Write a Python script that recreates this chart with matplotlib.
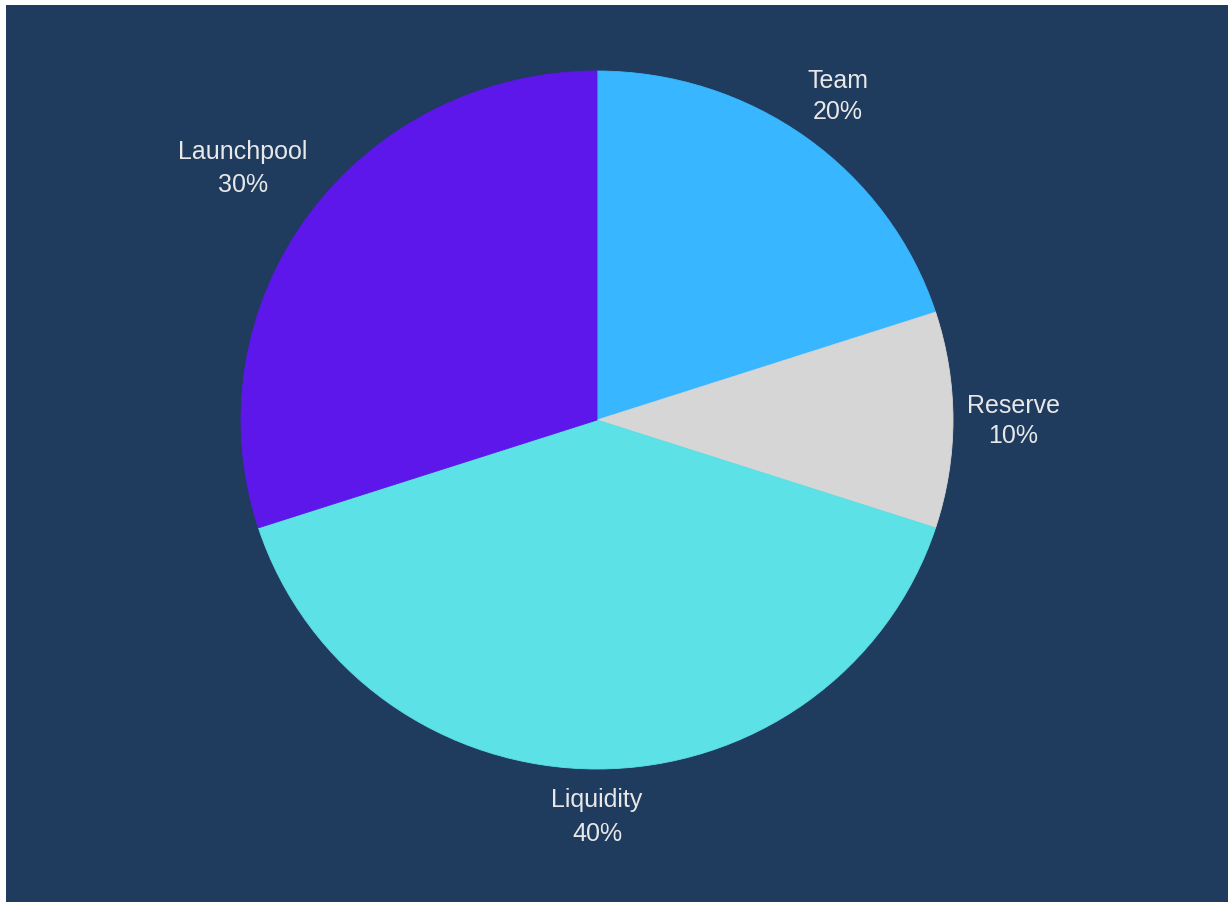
import matplotlib.pyplot as plt
from matplotlib.patches import Rectangle
import numpy as np

plt.rcParams['font.family'] = ['Liberation Sans', 'DejaVu Sans']

# Token allocation
labels = ['Team', 'Reserve', 'Liquidity', 'Launchpool']
shares = [20, 10, 40, 30]
colors = ['#38b6ff', '#d6d6d6', '#5ce1e6', '#5e17eb']
label_dist = [1.15, 1.17, 1.135, 1.23]
line_gap = [1.35, 1.35, 1.5, 1.5]

bg = '#1f3b5e'

fig = plt.figure(figsize=(12.28, 9.03), dpi=100)
fig.patch.set_facecolor('white')
fig.add_artist(Rectangle((6 / 1228, -0.01), 1.01, (903 - 6) / 903 + 0.01,
                         transform=fig.transFigure, facecolor=bg,
                         edgecolor='none', zorder=0))

ax = fig.add_axes([0, 0, 1, 1])
ax.set_facecolor('none')

wedges, _ = ax.pie(shares, colors=colors, startangle=90, counterclock=False,
                   wedgeprops=dict(linewidth=0.6))
for w, c in zip(wedges, colors):
    w.set_edgecolor(c)

# pie center sits at (597, 421) px, radii about 356 x 349 px
ax.set_aspect('auto')
ax.set_xlim(-597 / 356, (1228 - 597) / 356)
ax.set_ylim(-(903 - 421) / 349, 421 / 349)
ax.axis('off')

total = sum(shares)
start = 90
for name, val, d, ls in zip(labels, shares, label_dist, line_gap):
    mid = np.deg2rad(start - val / total * 360 / 2)
    start -= val / total * 360
    ax.text(d * np.cos(mid), d * np.sin(mid), f'{name}\n{val}%',
            ha='center', va='center', color='#e8e8e8', fontsize=18,
            linespacing=ls)

fig.savefig('out.png', dpi=100, facecolor=fig.get_facecolor())
